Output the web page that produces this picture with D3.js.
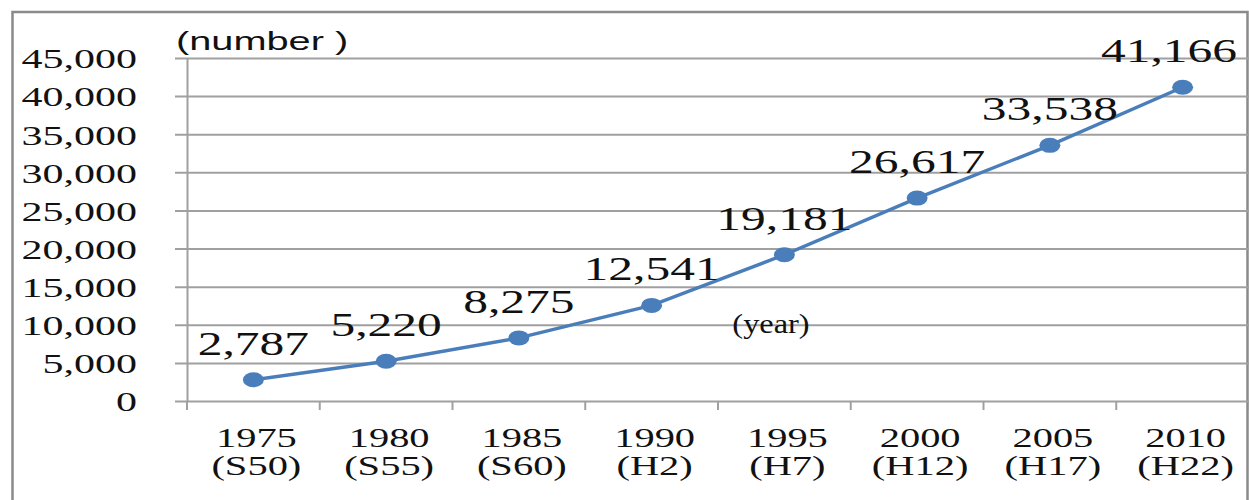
<!DOCTYPE html>
<html>
<head>
<meta charset="utf-8">
<script src="https://cdn.jsdelivr.net/npm/d3@7"></script>
<style>
  body { margin: 0; background: #fff; }
  svg { display: block; }
  .serif { font-family: "Liberation Serif", "Times New Roman", serif; fill: #111; }
  .sans { font-family: "Liberation Sans", Arial, sans-serif; fill: #111; }
</style>
</head>
<body>
<div id="root"></div>
<script>
// data
const years = ["1975", "1980", "1985", "1990", "1995", "2000", "2005", "2010"]
const eras = ["S50", "S55", "S60", "H2", "H7", "H12", "H17", "H22"]
const values = [2787, 5220, 8275, 12541, 19181, 26617, 33538, 41166]
const yTicks = [0, 5000, 10000, 15000, 20000, 25000, 30000, 35000, 40000, 45000]

const w = 1249, h = 500
const sx = 1.5 // the picture is stretched sideways
const plot = {left: 187, right: 1249, top: 58, bottom: 401}
const blue = "#4a7ebb", grid = "#a0a0a0"

const svg = d3.select("#root").append("svg")
    .attr("width", w)
    .attr("height", h)

//scales
const x = d3.scaleBand()
    .domain(years)
    .range([plot.left, plot.right])
    .padding(0)

const y = d3.scaleLinear()
    .domain([0, 45000])
    .range([plot.bottom, plot.top])

// outer frame
svg.append("rect")
    .attr("x", 12.5).attr("y", 12)
    .attr("width", 1235).attr("height", 520)
    .attr("fill", "none")
    .attr("stroke", "#8a8a8a")
    .attr("stroke-width", 2.5)

// gridlines (they poke out left of the axis as tick marks)
const gridG = svg.append("g")
    .attr("transform", `translate(${plot.left - 12},0)`)
    .call(d3.axisRight(y).tickValues(yTicks).tickSize(w - plot.left + 12).tickFormat(""))
gridG.select(".domain").remove()
gridG.selectAll("line").attr("stroke", grid).attr("stroke-width", 2)

// y axis
const yAxis = svg.append("g")
    .attr("transform", `translate(${plot.left},0)`)
    .call(d3.axisLeft(y).tickValues(yTicks).tickSize(0).tickFormat(d3.format(",")))
yAxis.select(".domain").attr("stroke", grid).attr("stroke-width", 2)
yAxis.selectAll("text")
    .attr("class", "serif")
    .attr("font-size", 28)
    .attr("x", -50 / sx)
    .attr("dy", "0.35em")
    .attr("transform", `scale(${sx},1)`)

// x axis ticks at the category boundaries
const bounds = years.map(d => x(d)).concat([plot.right])
svg.append("g").selectAll("line").data(bounds).enter().append("line")
    .attr("x1", d => d).attr("x2", d => d)
    .attr("y1", plot.bottom).attr("y2", plot.bottom + 9)
    .attr("stroke", grid).attr("stroke-width", 2)

// x labels
const xl = svg.append("g").selectAll("text").data(years).enter().append("text")
    .attr("class", "serif")
    .attr("font-size", 27)
    .attr("text-anchor", "middle")
    .attr("transform", d => `translate(${x(d) + x.bandwidth() / 2 + 3},447) scale(${sx},1)`)
xl.append("tspan").attr("x", 0).attr("y", 0).text(d => d)
xl.append("tspan").attr("x", 0).attr("y", 28.5).text((d, i) => `(${eras[i]})`)

// line + markers
const pts = years.map((d, i) => ({year: d, value: values[i]}))
const cx = d => x(d.year) + x.bandwidth() / 2

svg.append("path")
    .datum(pts)
    .attr("fill", "none")
    .attr("stroke", blue)
    .attr("stroke-width", 3.4)
    .attr("d", d3.line().x(cx).y(d => y(d.value)))

svg.selectAll("ellipse.pt").data(pts).enter().append("ellipse")
    .attr("class", "pt")
    .attr("cx", cx)
    .attr("cy", d => y(d.value))
    .attr("rx", 10.5)
    .attr("ry", 7.5)
    .attr("fill", blue)

// value labels
const labels = svg.selectAll("text.val").data(pts).enter().append("text")
    .attr("class", "serif val")
    .attr("font-size", 33)
    .attr("text-anchor", "middle")
    .text(d => d3.format(",")(d.value))
labels.each(function (d) {
    const half = this.getComputedTextLength() * sx / 2
    let px = cx(d)
    if (px + half > plot.right - 12) px = plot.right - 12 - half
    d3.select(this).attr("transform", `translate(${px},${y(d.value) - 25}) scale(${sx},1)`)
})

// unit notes
svg.append("text")
    .attr("class", "sans")
    .attr("font-size", 26.5)
    .attr("transform", `translate(176,50) scale(${sx},1)`)
    .text("(number )")

svg.append("text")
    .attr("class", "serif")
    .attr("font-size", 27)
    .attr("text-anchor", "middle")
    .attr("transform", `translate(771,333) scale(1.2,1)`)
    .text("(year)")
</script>
</body>
</html>
